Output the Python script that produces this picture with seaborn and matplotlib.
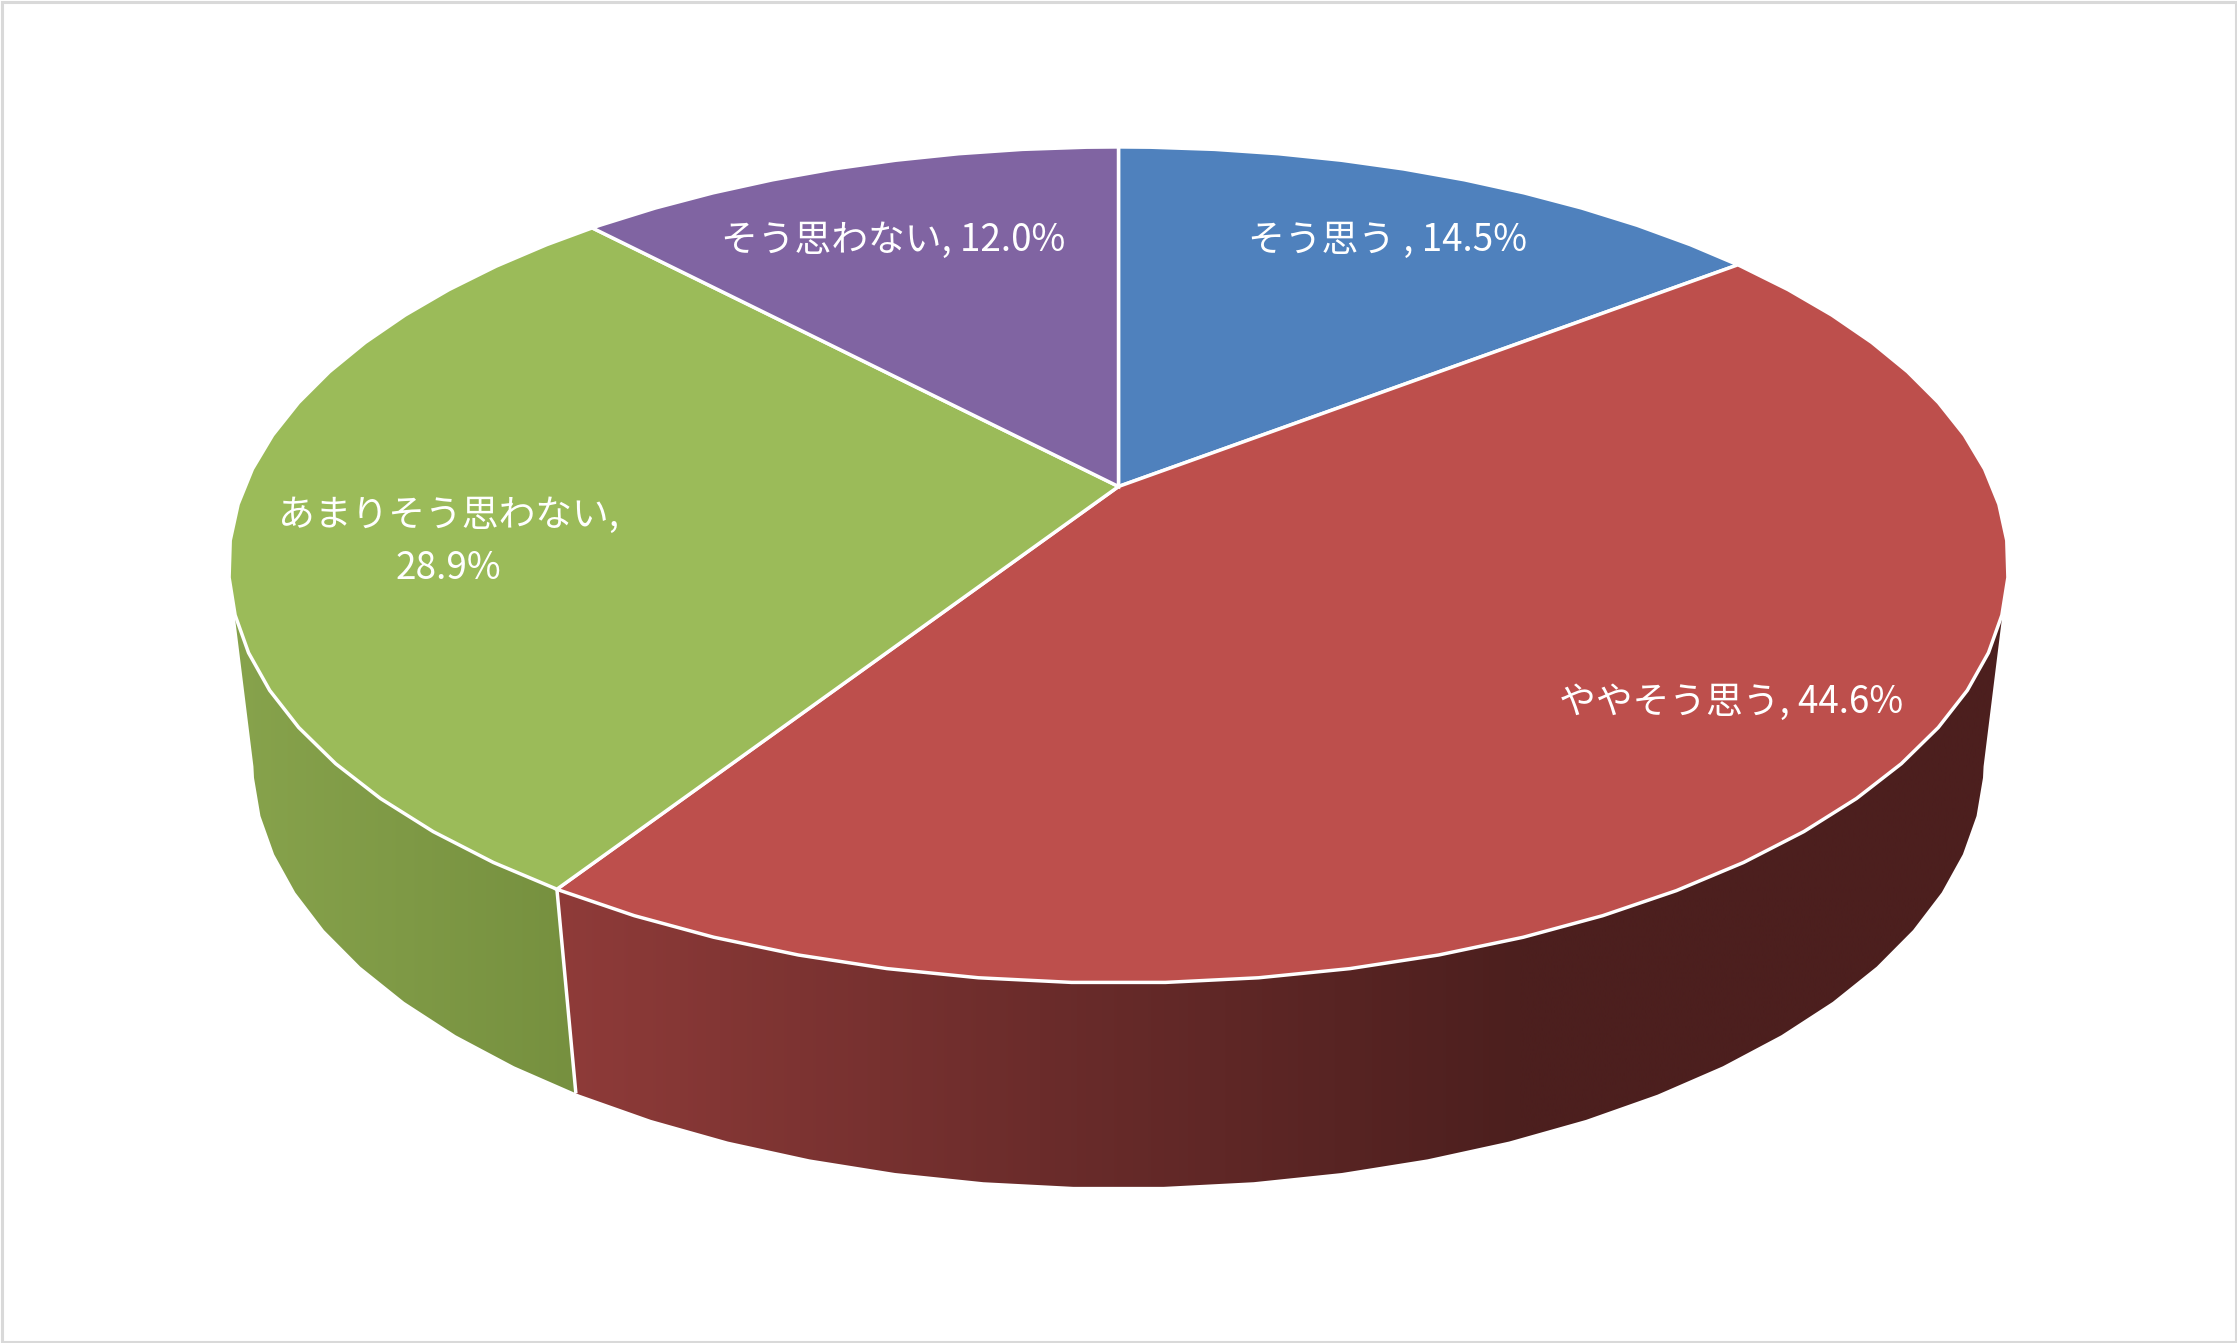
import numpy as np
import matplotlib.pyplot as plt
from matplotlib.patches import Polygon, PathPatch, Rectangle
from matplotlib.path import Path
import seaborn as sns

# data
categories = ['そう思う ', 'ややそう思う', 'あまりそう思わない', 'そう思わない']
values = [14.5, 44.6, 28.9, 12.0]
label_breaks = [' ', ' ', '\n', ' ']

sns.set_style('white')
plt.rcParams['font.family'] = ['Noto Sans CJK JP', 'DejaVu Sans']

face_colors = sns.color_palette(['#4f81bd', '#bd4f4c', '#9bbb59', '#8064a2'])
red_side = sns.blend_palette(['#8f3b39', '#6b2c2b', '#4c1f1e', '#4c1f1e'], 256)
green_side = sns.blend_palette(['#87a34c', '#76903f'], 256)

W, H = 2237, 1343
CX = 1118.5
# cy, a, b, k of the top disc and of the bottom disc (perspective projection)
TOP = (486.5, 874.0, 403.3, 0.1877)
LOW = (685.0, 851.0, 412.0, 0.18)
STEP = 5.0


def rim(theta_deg, disc=TOP):
    cy, a, b, k = disc
    t = np.radians(theta_deg)
    w = 1 + k * np.cos(t)
    return CX + a * np.sin(t) / w, cy - b * np.cos(t) / w


def arc(t0, t1):
    inner = np.arange(np.ceil((t0 - 2.5) / STEP) * STEP + 2.5, t1, STEP)
    return np.concatenate([[t0], inner, [t1]])


fig = plt.figure(figsize=(W / 100, H / 100), dpi=100)
ax = fig.add_axes([0, 0, 1, 1])
ax.axis('off')

edges = np.concatenate([[0], np.cumsum(values)]) * 360 / sum(values)


def draw_side(top_range, low_range, palette):
    top = np.column_stack(rim(arc(*top_range)))
    low = np.column_stack(rim(arc(*low_range), LOW))
    verts = np.vstack([top, low[::-1], top[:1]])
    # the wall shading runs left to right across the picture
    x0, x1 = verts[:, 0].min(), verts[:, 0].max()
    img = np.array(palette)[None, :, :]
    im = ax.imshow(img, extent=(x0, x1, verts[:, 1].max(), verts[:, 1].min()),
                   aspect='auto', zorder=1, interpolation='bilinear')
    clip = PathPatch(Path(verts), transform=ax.transData, fc='none', ec='none')
    ax.add_patch(clip)
    im.set_clip_path(clip)


draw_side((107, edges[2]), (101, edges[2]), red_side)
draw_side((edges[2], 253), (edges[2], 259), green_side)

# white line between the two side walls
jx, jy = rim(edges[2])
kx, ky = rim(edges[2], LOW)
ax.plot([jx, kx], [jy, ky], color='white', lw=2.5, zorder=2, solid_capstyle='butt')

for i, col in enumerate(face_colors):
    xs, ys = rim(arc(edges[i], edges[i + 1]))
    pts = np.vstack([[CX, TOP[0]], np.column_stack([xs, ys])])
    ax.add_patch(Polygon(pts, closed=True, fc=col, ec='white', lw=2.5, zorder=3, joinstyle='miter'))

# data labels
label_xy = [(1387, 240), (1731, 702), (448, 542), (893, 240)]
for cat, val, brk, (lx, ly) in zip(categories, values, label_breaks, label_xy):
    ax.text(lx, ly, f'{cat},{brk}{val:.1f}%', color='white', fontsize=26.5,
            ha='center', va='center', linespacing=1.48, zorder=5)

ax.add_patch(Rectangle((1.5, 1.5), W - 3, H - 3, fc='none', ec='#d9d9d9', lw=2.2, zorder=6))

ax.set_xlim(0, W)
ax.set_ylim(H, 0)

fig.savefig('out.png', dpi=100)
